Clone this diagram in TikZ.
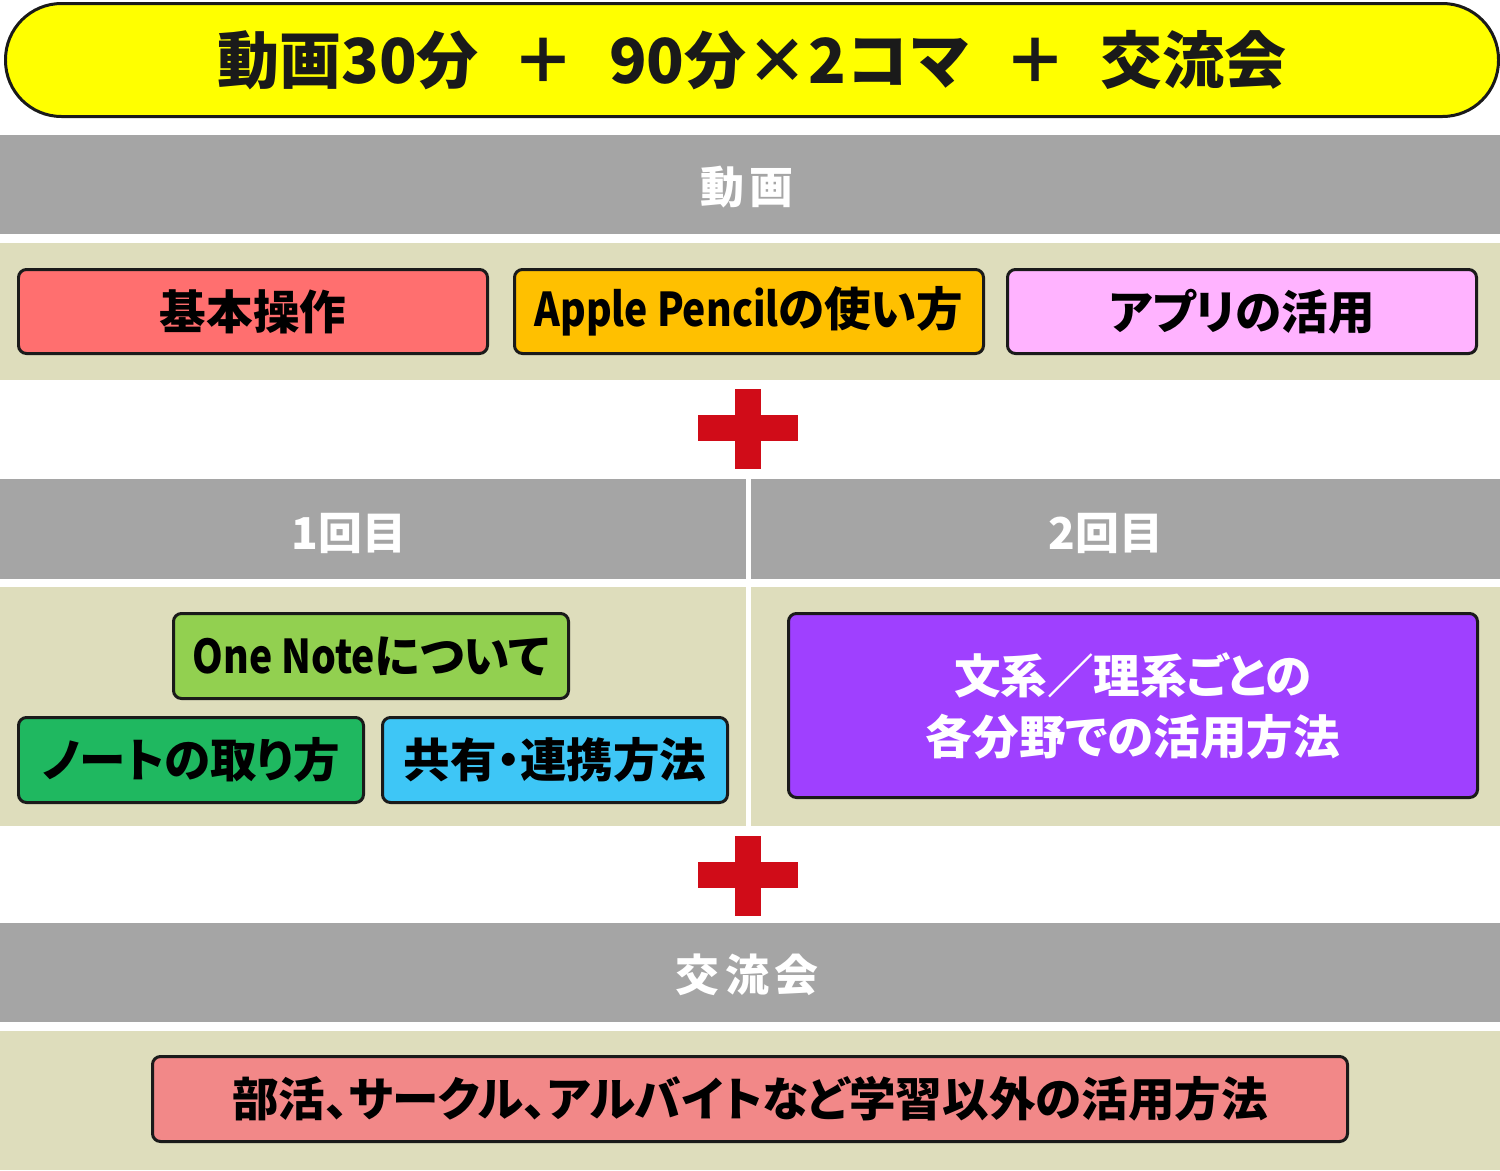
\documentclass[tikz,border=0pt]{standalone}
\usepackage{fontspec}
\setmainfont{Noto Sans CJK JP}
\newfontfamily\jpbox{Noto Sans CJK JP}[RawFeature=+palt]
\newfontfamily\jplatin{Noto Sans CJK JP}[FakeStretch=0.84]
\definecolor{pillyellow}{HTML}{FFFF00}
\definecolor{bandgray}{HTML}{A5A5A5}
\definecolor{beige}{HTML}{DEDDBC}
\definecolor{redbox}{HTML}{FF6F6F}
\definecolor{orangebox}{HTML}{FFC000}
\definecolor{pinkbox}{HTML}{FFB3FF}
\definecolor{limebox}{HTML}{92D050}
\definecolor{greenbox}{HTML}{1FB860}
\definecolor{bluebox}{HTML}{3EC6F6}
\definecolor{purplebox}{HTML}{9F40FF}
\definecolor{salmonbox}{HTML}{F28888}
\definecolor{plusred}{HTML}{D00C18}
\definecolor{ink}{HTML}{1A1A1A}
\newcommand\jpsize[2]{\fontsize{#1}{#2}\selectfont}
\newcommand\latn[1]{{\jplatin\bfseries #1}}
\begin{document}
\begin{tikzpicture}[x=0.02cm,y=-0.02cm,
  bandnode/.style={fill=bandgray,draw=none,inner sep=0pt},
  beigeband/.style={fill=beige,draw=none,inner sep=0pt},
  itembox/.style={draw=ink,line width=0.06cm,rounded corners=0.16cm,inner sep=0pt,text=black,font=\jpbox\bfseries\jpsize{26.5pt}{34.7pt},align=center},
  pluspart/.style={fill=plusred,draw=none,inner sep=0pt},
  bandlabel/.style={text=white,inner sep=0pt,font=\bfseries\jpsize{25pt}{30pt}}
]
\useasboundingbox (0,0) rectangle (1500,1170);
\fill[white] (0,0) rectangle (1500,1170);

% title pill
\node[draw=ink,line width=0.06cm,fill=pillyellow,rounded corners=1.12cm,
  minimum width=1493*0.02cm,minimum height=113*0.02cm,inner sep=0pt,
  text=ink,font=\bfseries\jpsize{35.3pt}{40pt}] (title) at (752,60)
  {動画30分\hspace{0.55em}＋\hspace{0.55em}90分×2コマ\hspace{0.55em}＋\hspace{0.55em}交流会};

% band 1
\node[bandnode,minimum width=30cm,minimum height=99*0.02cm] (bandA) at (750,184.5) {};
\node[bandlabel] (labelA) at (747,187) {動\hspace{3pt}画};
\node[beigeband,minimum width=30cm,minimum height=137*0.02cm] (beigeA) at (750,311.5) {};
\node[itembox,fill=redbox,minimum width=469*0.02cm,minimum height=84*0.02cm] (kihon) at (253,311.5) {基本操作};
\node[itembox,fill=orangebox,minimum width=469*0.02cm,minimum height=84*0.02cm] (pencil) at (749,311.5) {\latn{Apple Pencil}の使い方};
\node[itembox,fill=pinkbox,minimum width=469*0.02cm,minimum height=84*0.02cm] (app) at (1242,311.5) {アプリの活用};

% plus 1
\node[pluspart,minimum width=26*0.02cm,minimum height=80*0.02cm] (plusAv) at (748,429) {};
\node[pluspart,minimum width=100*0.02cm,minimum height=26*0.02cm] (plusAh) at (748,428) {};

% band 2
\node[bandnode,minimum width=30cm,minimum height=100*0.02cm] (bandB) at (750,529) {};
\node[bandlabel] (labelB1) at (349,533) {1回目};
\node[bandlabel] (labelB2) at (1106,533) {2回目};
\node[beigeband,minimum width=30cm,minimum height=239*0.02cm] (beigeB) at (750,706.5) {};
\fill[white] (746,479) rectangle (751,826);

\node[itembox,fill=limebox,minimum width=395*0.02cm,minimum height=85*0.02cm] (onenote) at (371,656) {\latn{One Note}について};
\node[itembox,fill=greenbox,minimum width=345*0.02cm,minimum height=85*0.02cm] (note) at (191,760) {ノートの取り方};
\node[itembox,fill=bluebox,minimum width=345*0.02cm,minimum height=85*0.02cm] (share) at (555,760) {共有・連携方法};
\node[itembox,fill=purplebox,text=white,minimum width=689*0.02cm,minimum height=184*0.02cm] (field) at (1133,705.5) {文系／理系ごとの\\各分野での活用方法};

% plus 2
\node[pluspart,minimum width=26*0.02cm,minimum height=80*0.02cm] (plusBv) at (748,876) {};
\node[pluspart,minimum width=100*0.02cm,minimum height=26*0.02cm] (plusBh) at (748,875) {};

% band 3
\node[bandnode,minimum width=30cm,minimum height=99*0.02cm] (bandC) at (750,972.5) {};
\node[bandlabel] (labelC) at (747,975) {交\hspace{3pt}流\hspace{3pt}会};
\node[beigeband,minimum width=30cm,minimum height=139*0.02cm] (beigeC) at (750,1100.5) {};
\node[itembox,fill=salmonbox,minimum width=1195*0.02cm,minimum height=85*0.02cm] (club) at (750,1099) {部活、サークル、アルバイトなど学習以外の活用方法};
\end{tikzpicture}
\end{document}
